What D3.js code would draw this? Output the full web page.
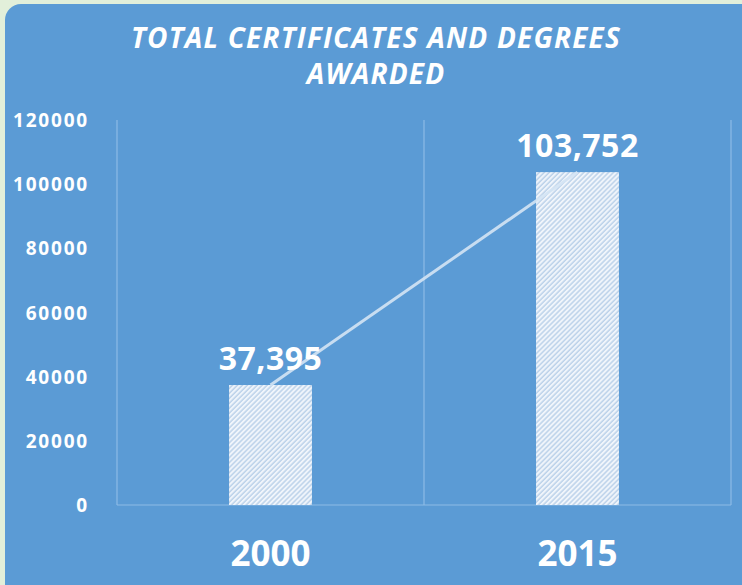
<!DOCTYPE html>
<html>
<head>
<meta charset="utf-8">
<script src="https://cdn.jsdelivr.net/npm/d3@7"></script>
<style>
  body { margin: 0; background: #e2efda; }
  svg { display: block; }
</style>
</head>
<body>
<div id="chart"></div>
<script>
// chart data
const years = ["2000", "2015"];
const totals = [37395, 103752];
const yTicks = [0, 20000, 40000, 60000, 80000, 100000, 120000];
const titleLines = ["TOTAL CERTIFICATES AND DEGREES", "AWARDED"];

const width = 742, height = 585;
const margin = { top: 120, right: 11, bottom: 80, left: 117 };

const svg = d3.select("#chart").append("svg")
    .attr("width", width)
    .attr("height", height);

// hatch pattern for the bars
const defs = svg.append("defs");
const pat = defs.append("pattern")
    .attr("id", "hatch")
    .attr("patternUnits", "userSpaceOnUse")
    .attr("width", 3.5)
    .attr("height", 3.5)
    .attr("patternTransform", "rotate(45)");
pat.append("rect").attr("width", 3.5).attr("height", 3.5).attr("fill", "#bcd2ea");
pat.append("rect").attr("width", 2).attr("height", 3.5).attr("fill", "#f0f5fb");

// blue panel
svg.append("rect")
    .attr("x", 5).attr("y", 4)
    .attr("width", width + 20).attr("height", height + 20)
    .attr("rx", 16)
    .attr("fill", "#5b9bd5");

// title
svg.append("g").selectAll("text")
    .data(titleLines)
    .enter()
    .append("text")
    .attr("x", 376)
    .attr("y", (d, i) => 48 + i * 36)
    .attr("text-anchor", "middle")
    .attr("fill", "#fff")
    .style("font", "italic bold 28px 'Open Sans', sans-serif")
    .style("letter-spacing", "1.2px")
    .text(d => d);

const x = d3.scaleBand()
    .domain(years)
    .range([margin.left, width - margin.right])
    .paddingInner(0)
    .paddingOuter(0);

const y = d3.scaleLinear()
    .domain([0, 120000])
    .range([height - margin.bottom, margin.top]);

// y axis labels
const yAxis = svg.append("g")
    .attr("transform", `translate(${margin.left - 25},0)`)
    .call(d3.axisLeft(y).tickValues(yTicks).tickFormat(d3.format("d")).tickSize(0));
yAxis.select(".domain").remove();
yAxis.selectAll("text")
    .attr("fill", "#fff")
    .attr("dy", "0.35em")
    .style("font", "bold 19px 'Open Sans', sans-serif")
    .style("letter-spacing", "1.8px");

// vertical grid lines between categories
const gridX = [margin.left, ...years.map(d => x(d) + x.bandwidth())];
svg.append("g").selectAll("line")
    .data(gridX)
    .enter()
    .append("line")
    .attr("x1", d => d).attr("x2", d => d)
    .attr("y1", y(120000)).attr("y2", y(0))
    .attr("stroke", "#8dbbe6")
    .attr("stroke-width", 1.2);

// baseline
svg.append("line")
    .attr("x1", margin.left).attr("x2", width - margin.right)
    .attr("y1", y(0)).attr("y2", y(0))
    .attr("stroke", "#8dbbe6")
    .attr("stroke-width", 1.2);

// bars
const barW = x.bandwidth() * 0.27;
svg.append("g").selectAll("rect")
    .data(totals)
    .enter()
    .append("rect")
    .attr("x", (d, i) => x(years[i]) + x.bandwidth() / 2 - barW / 2)
    .attr("y", d => y(d))
    .attr("width", barW)
    .attr("height", d => y(0) - y(d))
    .attr("fill", "url(#hatch)");

// trend line
const line = d3.line()
    .x((d, i) => x(years[i]) + x.bandwidth() / 2)
    .y(d => y(d));
svg.append("path")
    .datum(totals)
    .attr("d", line)
    .attr("fill", "none")
    .attr("stroke", "#d4e4f4")
    .attr("stroke-width", 3)
    .attr("stroke-opacity", 0.9);

// value labels
svg.append("g").selectAll("text")
    .data(totals)
    .enter()
    .append("text")
    .attr("x", (d, i) => x(years[i]) + x.bandwidth() / 2)
    .attr("y", d => y(d) - 15)
    .attr("text-anchor", "middle")
    .attr("fill", "#fff")
    .style("font", "bold 32px 'Open Sans', sans-serif")
    .style("letter-spacing", "0.5px")
    .text(d => d3.format(",")(d));

// category labels
svg.append("g").selectAll("text")
    .data(years)
    .enter()
    .append("text")
    .attr("x", d => x(d) + x.bandwidth() / 2)
    .attr("y", 566)
    .attr("text-anchor", "middle")
    .attr("fill", "#fff")
    .style("font", "bold 35px 'Open Sans', sans-serif")
    .text(d => d);
</script>
</body>
</html>
